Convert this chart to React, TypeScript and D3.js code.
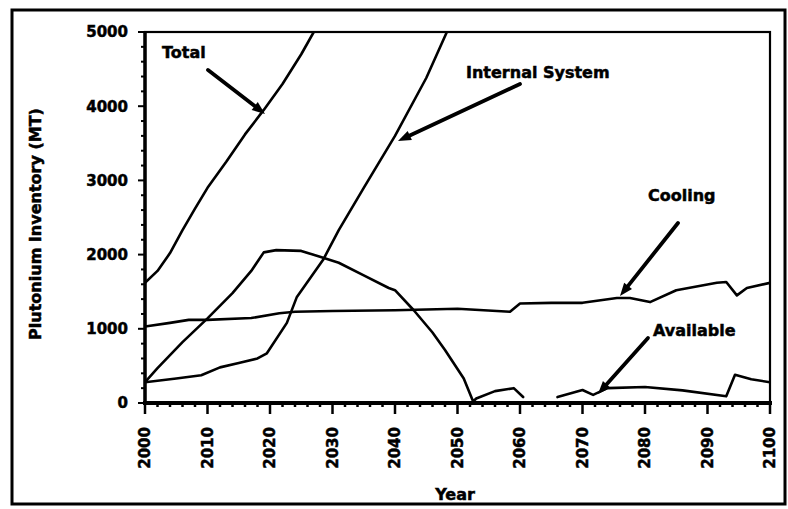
import * as React from "react";
import * as d3 from "d3";

const { useRef, useEffect } = React;

// year / value pairs
const totalSeries: [number, number][] = [
  [2000, 1620], [2002, 1780], [2004, 2020], [2006, 2330], [2008, 2620],
  [2010, 2900], [2013, 3250], [2016, 3620], [2019, 3950], [2022, 4300],
  [2025, 4700], [2027, 5000], [2029, 5300],
];

const internalSeries: [number, number][] = [
  [2000, 280], [2005, 330], [2009, 375], [2012, 480], [2015, 540],
  [2018, 600], [2019.5, 670], [2022.7, 1080], [2024.3, 1430], [2028.5, 1930],
  [2031, 2330], [2035, 2900], [2040, 3600], [2045, 4380], [2048.3, 5000],
  [2050, 5350],
];

const availableSeries: [number, number | null][] = [
  [2000, 280], [2002, 470], [2006, 820], [2010, 1140], [2014, 1480],
  [2017, 1780], [2019, 2030], [2021, 2060], [2025, 2050], [2028, 1970],
  [2031, 1890], [2035, 1720], [2039, 1550], [2040, 1520], [2043, 1250],
  [2046, 950], [2048, 715], [2051, 330], [2052.5, 20], [2053, 60],
  [2056, 160], [2059, 200], [2060.5, 80], [2062, null], [2066, 80],
  [2070, 175], [2071.7, 110], [2074, 200], [2080, 215], [2086, 170],
  [2093, 90], [2094.4, 380], [2097, 320], [2100, 280],
];

const coolingSeries: [number, number][] = [
  [2000, 1030], [2004, 1080], [2007, 1120], [2010, 1120], [2017, 1145],
  [2021.5, 1210], [2024, 1230], [2030, 1240], [2040, 1250], [2050, 1270],
  [2058.4, 1230], [2060, 1340], [2065, 1350], [2070, 1350], [2075.5, 1415],
  [2077.6, 1415], [2080.8, 1360], [2085, 1520], [2091.5, 1620], [2093, 1630],
  [2094.7, 1450], [2096.3, 1550], [2100, 1620],
];

const xTicks = [2000, 2010, 2020, 2030, 2040, 2050, 2060, 2070, 2080, 2090, 2100];
const yTicks = [0, 1000, 2000, 3000, 4000, 5000];

const annotations = [
  { label: "Total", tx: 162, ty: 58, from: [208, 70], to: [265, 114] },
  { label: "Internal System", tx: 466, ty: 78, from: [520, 84], to: [398, 141] },
  { label: "Cooling", tx: 648, ty: 201, from: [678, 223], to: [620, 296] },
  { label: "Available", tx: 653, ty: 336, from: [648, 338], to: [598, 394] },
];

const FONT = "'DejaVu Sans', Arial, sans-serif";

export default function App() {
  const svgRef = useRef(null);

  useEffect(() => {
    const svg = d3.select(svgRef.current);
    svg.selectAll("*").remove();

    const left = 145, right = 770, top = 32, bottom = 403;
    const x = d3.scaleLinear().domain([2000, 2100]).range([left, right]);
    const y = d3.scaleLinear().domain([0, 5000]).range([bottom, top]);

    const boldText = (sel: any, size: number) =>
      sel.attr("font-family", FONT).attr("font-weight", "bold").attr("font-size", size)
        .attr("stroke", "#000").attr("stroke-width", 0.5).attr("fill", "#000");

    // outer frame
    svg.append("rect")
      .attr("x", 12).attr("y", 10)
      .attr("width", 773).attr("height", 494)
      .attr("fill", "none").attr("stroke", "#000").attr("stroke-width", 3);

    svg.append("defs").append("clipPath").attr("id", "plot-clip")
      .append("rect")
      .attr("x", left).attr("y", top)
      .attr("width", right - left).attr("height", bottom - top);

    // plot box
    svg.append("rect")
      .attr("x", left).attr("y", top)
      .attr("width", right - left).attr("height", bottom - top)
      .attr("fill", "none").attr("stroke", "#000").attr("stroke-width", 2.2);

    // y axis
    const yAxis = svg.append("g");
    yAxis.append("line")
      .attr("x1", left).attr("x2", left).attr("y1", top).attr("y2", bottom + 2)
      .attr("stroke", "#000").attr("stroke-width", 3.5);
    yAxis.selectAll("line.minor")
      .data(d3.range(0, 5001, 200))
      .enter().append("line")
        .attr("class", "minor")
        .attr("x1", left)
        .attr("x2", (d) => left - (d % 1000 === 0 ? 7 : 4))
        .attr("y1", (d) => y(d)).attr("y2", (d) => y(d))
        .attr("stroke", "#000").attr("stroke-width", 2);
    boldText(
      yAxis.selectAll("text")
        .data(yTicks)
        .enter().append("text")
          .attr("x", 128)
          .attr("y", (d) => y(d))
          .attr("dy", "0.36em")
          .attr("text-anchor", "end"),
      15
    ).text((d) => d);

    // x axis
    const xAxis = svg.append("g");
    xAxis.append("line")
      .attr("x1", left - 2).attr("x2", right + 2).attr("y1", bottom).attr("y2", bottom)
      .attr("stroke", "#000").attr("stroke-width", 4);
    xAxis.selectAll("line.minor")
      .data(d3.range(2000, 2101, 2))
      .enter().append("line")
        .attr("class", "minor")
        .attr("x1", (d) => x(d)).attr("x2", (d) => x(d))
        .attr("y1", bottom)
        .attr("y2", (d) => bottom + (d % 10 === 0 ? 11 : 4))
        .attr("stroke", "#000").attr("stroke-width", 2.5);
    boldText(
      xAxis.selectAll("text")
        .data(xTicks)
        .enter().append("text")
          .attr("transform", (d) => `translate(${x(d)},427) rotate(-90)`)
          .attr("dy", "0.36em")
          .attr("text-anchor", "end"),
      15
    ).text((d) => d);

    // axis titles
    boldText(
      svg.append("text")
        .attr("transform", "translate(41,224) rotate(-90)")
        .attr("text-anchor", "middle"),
      16
    ).text("Plutonium Inventory (MT)");
    boldText(
      svg.append("text")
        .attr("x", 455).attr("y", 500)
        .attr("text-anchor", "middle"),
      16
    ).text("Year");

    // data lines
    const line = d3.line<[number, number | null]>()
      .defined((d) => d[1] !== null)
      .x((d) => x(d[0]))
      .y((d) => y(d[1] as number));

    const lines = svg.append("g").attr("clip-path", "url(#plot-clip)");
    [totalSeries, internalSeries, availableSeries, coolingSeries].forEach((s) => {
      lines.append("path")
        .datum(s as [number, number | null][])
        .attr("d", line)
        .attr("fill", "none")
        .attr("stroke", "#000")
        .attr("stroke-width", 2.6)
        .attr("stroke-linejoin", "round")
        .attr("stroke-linecap", "round");
    });

    // annotations with arrows
    const ann = svg.append("g");
    annotations.forEach((a) => {
      boldText(ann.append("text").attr("x", a.tx).attr("y", a.ty), 16).text(a.label);
      const [x1, y1] = a.from, [x2, y2] = a.to;
      const ang = Math.atan2(y2 - y1, x2 - x1);
      const hl = 13, hw = 5;
      const bx = x2 - hl * Math.cos(ang), by = y2 - hl * Math.sin(ang);
      ann.append("line")
        .attr("x1", x1).attr("y1", y1).attr("x2", bx).attr("y2", by)
        .attr("stroke", "#000").attr("stroke-width", 3.8).attr("stroke-linecap", "round");
      const px = -Math.sin(ang) * hw, py = Math.cos(ang) * hw;
      ann.append("path")
        .attr("d", `M${x2},${y2}L${bx + px},${by + py}L${bx - px},${by - py}Z`)
        .attr("fill", "#000");
    });
  }, []);

  return (
    <svg
      ref={svgRef}
      width={788}
      height={509}
      style={{ position: "absolute", left: 0, top: 0, background: "#fff" }}
    />
  );
}
